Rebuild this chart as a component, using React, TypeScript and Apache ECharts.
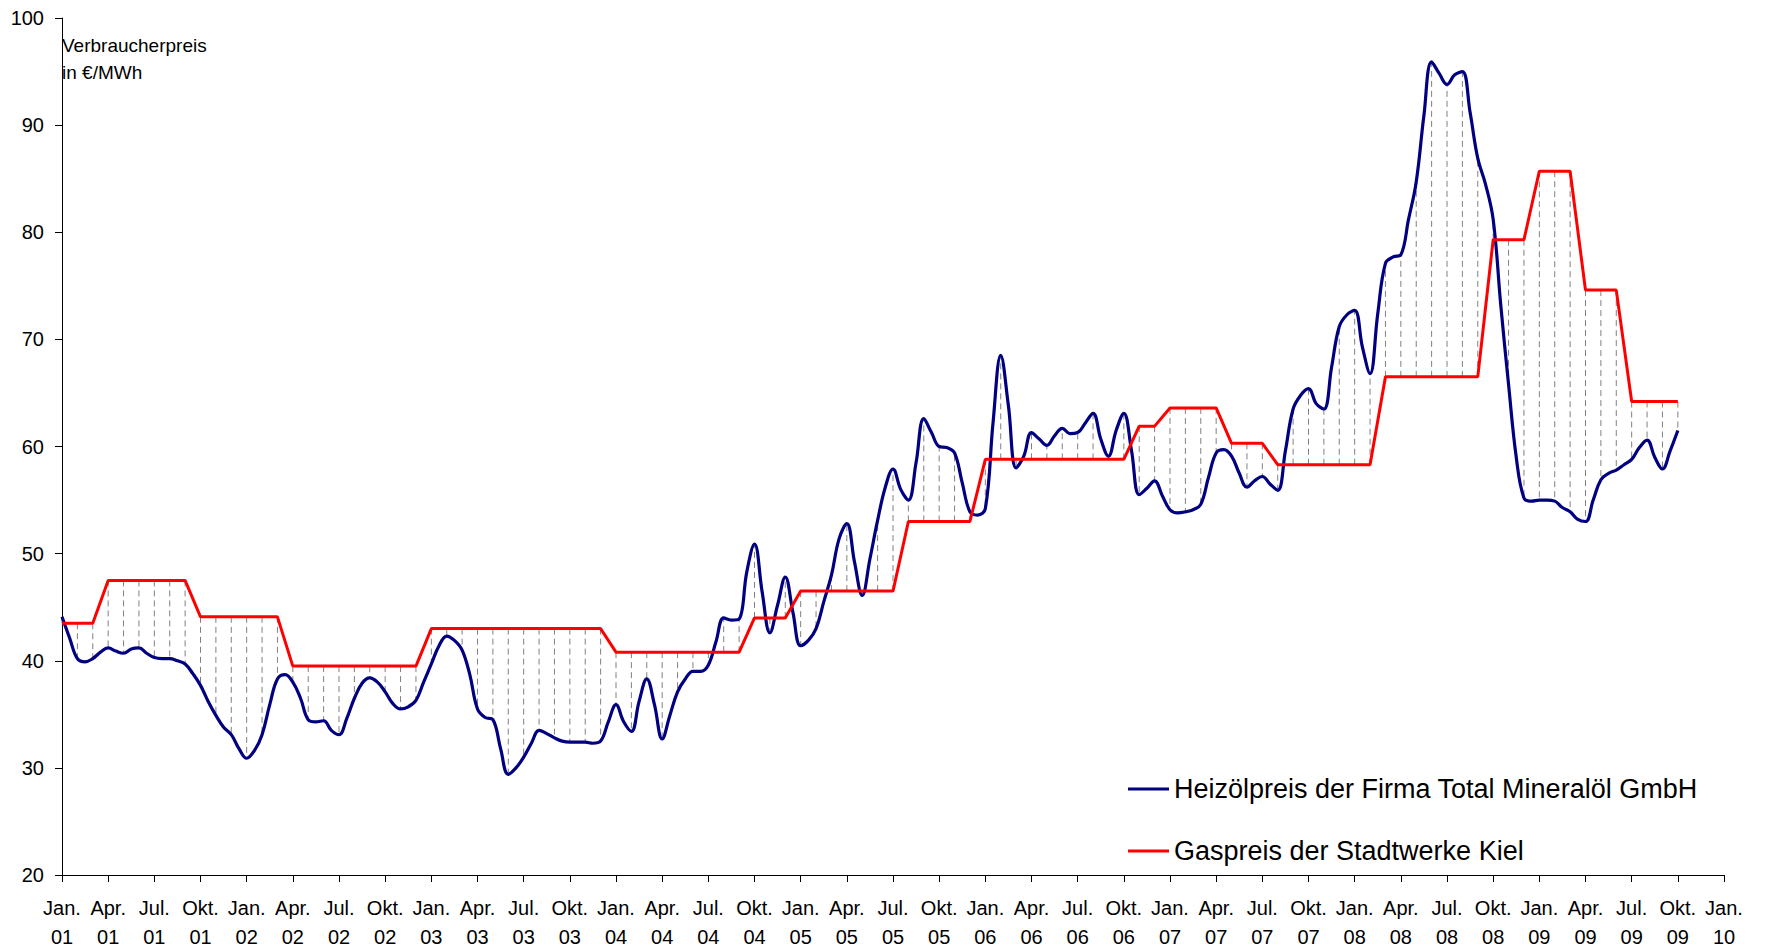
import React, { useEffect, useRef } from "react";
import * as echarts from "echarts";

const xTickLabels = [
  "Jan.\n01", "Apr.\n01", "Jul.\n01", "Okt.\n01",
  "Jan.\n02", "Apr.\n02", "Jul.\n02", "Okt.\n02",
  "Jan.\n03", "Apr.\n03", "Jul.\n03", "Okt.\n03",
  "Jan.\n04", "Apr.\n04", "Jul.\n04", "Okt.\n04",
  "Jan.\n05", "Apr.\n05", "Jul.\n05", "Okt.\n05",
  "Jan.\n06", "Apr.\n06", "Jul.\n06", "Okt.\n06",
  "Jan.\n07", "Apr.\n07", "Jul.\n07", "Okt.\n07",
  "Jan.\n08", "Apr.\n08", "Jul.\n08", "Okt.\n08",
  "Jan.\n09", "Apr.\n09", "Jul.\n09", "Okt.\n09",
  "Jan.\n10",
];

// Heizölpreis, half-monthly samples starting Jan 2001 (€/MWh)
const oilPrice = [
  44.1, 42.1, 40.2, 39.9, 40.2, 40.8, 41.2, 40.9, 40.7, 41.1, 41.2, 40.7,
  40.3, 40.2, 40.2, 40.0, 39.7, 38.8, 37.7, 36.2, 34.9, 33.8, 33.1, 31.8,
  30.9, 31.6, 33.1, 35.9, 38.3, 38.7, 38.0, 36.5, 34.5, 34.3, 34.4, 33.5,
  33.1, 34.6, 36.5, 37.9, 38.4, 38.0, 37.1, 36.0, 35.5, 35.7, 36.3, 38.0,
  39.7, 41.4, 42.3, 41.9, 41.0, 38.7, 35.5, 34.7, 34.5, 31.8, 29.4, 30.0,
  31.0, 32.3, 33.5, 33.2, 32.8, 32.5, 32.4, 32.4, 32.4, 32.3, 32.5, 34.3,
  35.9, 34.3, 33.4, 36.2, 38.3, 35.9, 32.7, 34.9, 37.1, 38.3, 39.0, 39.0,
  39.6, 41.8, 44.0, 43.8, 43.9, 48.3, 50.9, 46.4, 42.6, 45.2, 47.8, 44.5,
  41.4, 41.9, 43.0, 45.5, 48.0, 51.4, 52.8, 49.2, 46.1, 49.5, 53.1, 56.2,
  57.9, 56.0, 55.0, 58.5, 62.6, 61.3, 60.0, 59.9, 59.4, 56.6, 53.9, 53.6,
  54.2, 62.2, 68.5, 63.8, 58.0, 59.1, 61.3, 60.7, 60.1, 61.0, 61.7, 61.2,
  61.3, 62.2, 63.1, 60.7, 59.1, 61.5, 63.1, 59.6, 55.5, 56.1, 56.8, 55.4,
  54.1, 53.8, 53.9, 54.1, 54.6, 57.1, 59.4, 59.7, 59.1, 57.5, 56.2, 56.8,
  57.2, 56.5, 55.9, 59.6, 63.5, 64.8, 65.4, 64.0, 63.5, 67.4, 71.2, 72.3,
  72.7, 69.3, 66.8, 72.4, 77.1, 77.7, 77.9, 81.2, 84.7, 90.9, 95.9, 94.8,
  93.8, 94.7, 95.0, 91.2, 86.9, 84.5, 81.2, 73.1, 65.8, 59.0, 55.2, 54.9,
  55.0, 55.0, 54.9, 54.3, 53.9, 53.2, 53.0, 55.0, 56.9, 57.5, 57.8, 58.3,
  58.8, 59.9, 60.6, 59.0, 57.9, 59.6,
  61.5,
];

// Gaspreis, monthly values starting Jan 2001 (€/MWh)
const gasPrice = [
  43.5, 43.5, 43.5, 47.5, 47.5, 47.5, 47.5, 47.5, 47.5, 44.1, 44.1, 44.1,
  44.1, 44.1, 44.1, 39.5, 39.5, 39.5, 39.5, 39.5, 39.5, 39.5, 39.5, 39.5,
  43.0, 43.0, 43.0, 43.0, 43.0, 43.0, 43.0, 43.0, 43.0, 43.0, 43.0, 43.0,
  40.8, 40.8, 40.8, 40.8, 40.8, 40.8, 40.8, 40.8, 40.8, 44.0, 44.0, 44.0,
  46.5, 46.5, 46.5, 46.5, 46.5, 46.5, 46.5, 53.0, 53.0, 53.0, 53.0, 53.0,
  58.8, 58.8, 58.8, 58.8, 58.8, 58.8, 58.8, 58.8, 58.8, 58.8, 61.9, 61.9,
  63.6, 63.6, 63.6, 63.6, 60.3, 60.3, 60.3, 58.3, 58.3, 58.3, 58.3, 58.3,
  58.3, 58.3, 66.5, 66.5, 66.5, 66.5, 66.5, 66.5, 66.5, 79.3, 79.3, 79.3,
  85.7, 85.7, 85.7, 74.6, 74.6, 74.6, 64.2, 64.2, 64.2, 64.2,
];

const seriesNames = [
  "Heizölpreis der Firma Total Mineralöl GmbH",
  "Gaspreis der Stadtwerke Kiel",
];
const yAxisTitle = "Verbraucherpreis\nin €/MWh";

const FONT = "'Liberation Sans', Arial, Helvetica, sans-serif";

export default function App() {
  const ref = useRef<HTMLDivElement>(null);
  useEffect(() => {
    const chart = echarts.init(ref.current!, null, { renderer: "svg" });
    const oilData = oilPrice.map((v, i) => [i / 2, v]);
    const gasData = gasPrice.map((v, i) => [i, v]);
    const dropData = gasPrice.map((v, i) => [i, v, oilPrice[i * 2]]);
    chart.setOption({
      animation: false,
      backgroundColor: "#ffffff",
      textStyle: { fontFamily: FONT },
      grid: { left: 62, right: 41, top: 18, bottom: 74, containLabel: false },
      xAxis: {
        type: "value",
        min: 0,
        max: 108,
        interval: 3,
        axisLine: { show: true, lineStyle: { color: "#000", width: 1 } },
        axisTick: { show: true, length: 7, lineStyle: { color: "#000", width: 1 } },
        splitLine: { show: false },
        axisLabel: {
          formatter: (v: number) => xTickLabels[Math.round(v / 3)] ?? "",
          fontSize: 20,
          lineHeight: 29,
          margin: 18,
          color: "#000",
          fontFamily: FONT,
          showMinLabel: true,
          showMaxLabel: true,
          hideOverlap: false,
        },
      },
      yAxis: {
        type: "value",
        min: 20,
        max: 100,
        interval: 10,
        axisLine: { show: true, lineStyle: { color: "#000", width: 1 } },
        axisTick: { show: true, length: 7, lineStyle: { color: "#000", width: 1 } },
        splitLine: { show: false },
        axisLabel: { fontSize: 20, margin: 18, color: "#000", fontFamily: FONT },
      },
      legend: {
        orient: "vertical",
        left: 1123,
        top: 769,
        itemWidth: 41,
        itemHeight: 3,
        itemGap: 32,
        icon: "rect",
        textStyle: { fontSize: 27, lineHeight: 30, color: "#000", fontFamily: FONT },
        data: seriesNames,
        selectedMode: false,
      },
      graphic: [
        {
          type: "text",
          left: 62,
          top: 32,
          style: {
            text: yAxisTitle,
            fontSize: 19,
            lineHeight: 27,
            fill: "#000",
            fontFamily: FONT,
          },
        },
      ],
      series: [
        {
          type: "custom",
          name: "drop",
          silent: true,
          z: 1,
          encode: { x: 0, y: [1, 2] },
          data: dropData,
          renderItem: (params: any, api: any) => {
            const m = api.value(0);
            const p1 = api.coord([m, api.value(1)]);
            const p2 = api.coord([m, api.value(2)]);
            return {
              type: "line",
              shape: { x1: p1[0], y1: p1[1], x2: p2[0], y2: p2[1] },
              style: { stroke: "#808080", lineWidth: 1, lineDash: [6, 4] },
            };
          },
        },
        {
          type: "line",
          name: seriesNames[0],
          data: oilData,
          showSymbol: false,
          symbol: "none",
          smooth: 0.4,
          z: 2,
          color: "#000080",
          lineStyle: { color: "#000080", width: 3.2 },
        },
        {
          type: "line",
          name: seriesNames[1],
          data: gasData,
          showSymbol: false,
          symbol: "none",
          z: 3,
          color: "#ff0000",
          lineStyle: { color: "#ff0000", width: 3 },
        },
      ],
    });
    return () => chart.dispose();
  }, []);
  return (
    <div
      ref={ref}
      style={{ position: "fixed", left: 0, top: 0, width: 1765, height: 951, background: "#fff" }}
    />
  );
}
